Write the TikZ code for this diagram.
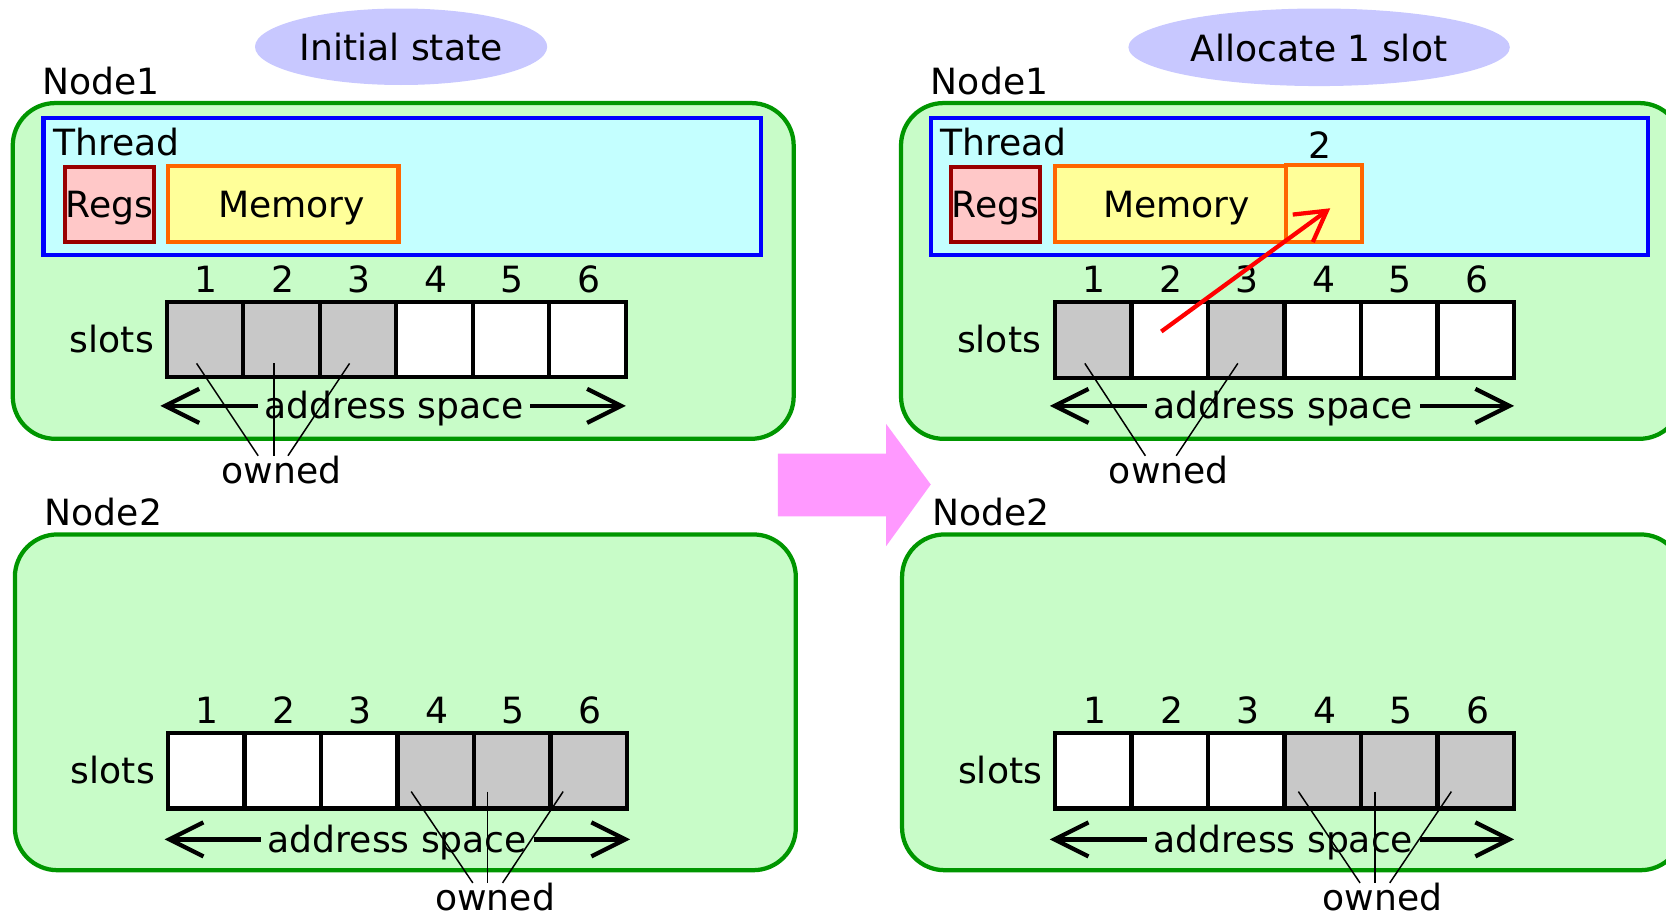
\documentclass[tikz,border=0pt]{standalone}
\usepackage{fontspec}
\setmainfont{DejaVu Sans}
\usetikzlibrary{arrows.meta,shapes.geometric}
\definecolor{nodefill}{RGB}{200,252,200}
\definecolor{nodeline}{RGB}{0,150,0}
\definecolor{ellfill}{RGB}{200,200,255}
\definecolor{thrfill}{RGB}{196,255,255}
\definecolor{thrline}{RGB}{0,0,255}
\definecolor{regfill}{RGB}{255,200,200}
\definecolor{regline}{RGB}{153,0,0}
\definecolor{memfill}{RGB}{255,255,153}
\definecolor{memline}{RGB}{255,102,0}
\definecolor{slotgray}{RGB}{200,200,200}
\definecolor{bigarrow}{RGB}{255,153,255}
\tikzset{
  txt/.style={font=\fontsize{34}{40}\selectfont, inner sep=0pt},
  nodebox/.style={draw=nodeline, fill=nodefill, line width=4pt, rounded corners=40pt,
    minimum width=735pt, minimum height=316pt, anchor=north west, inner sep=0pt, outer sep=0pt},
  thrbox/.style={draw=thrline, fill=thrfill, line width=4pt, minimum width=675pt,
    minimum height=129pt, anchor=north west, inner sep=0pt, outer sep=0pt},
  regbox/.style={txt, draw=regline, fill=regfill, line width=4pt, minimum width=84pt,
    minimum height=71pt, anchor=north west, text depth=0pt},
  membox/.style={txt, draw=memline, fill=memfill, line width=4pt, minimum width=217pt,
    minimum height=72pt, anchor=north west, text depth=0pt},
  ell/.style={txt, ellipse, fill=ellfill, text depth=0pt},
  slot/.style={draw=black, line width=4pt, minimum width=72pt, minimum height=71pt,
    inner sep=0pt, outer sep=0pt},
  addr/.style={line width=4pt, {Straight Barb[length=32pt,width=32pt]}-},
  ownline/.style={line width=1.4pt},
  redarr/.style={draw=red, line width=4pt, -{Straight Barb[length=28pt,width=32pt]}},
}
\begin{document}
\begin{tikzpicture}[x=1pt,y=-1pt]
\useasboundingbox (0,0) rectangle (1568,862);

% ---------------- big arrow
\fill[bigarrow] (732,427) -- (834,427) -- (834,399) -- (876,456) -- (834,514) -- (834,486) -- (732,486) -- cycle;

% ---------------- titles
\node[ell, minimum width=275pt, minimum height=72pt] (e1) at (377.5,44) {Initial state};
\node[ell, minimum width=359pt, minimum height=73pt] (e2) at (1241.5,44.5) {Allocate 1 slot};

% ================= LEFT PANEL
\node[txt, anchor=base west] (L1lab) at (40,89) {Node1};
\node[nodebox] (L1box) at (12,97) {};
\node[thrbox] (L1thr) at (41,111) {};
\node[txt, anchor=base west] (L1thrlab) at (50,146) {Thread};
\node[regbox] (L1reg) at (59,155) {Regs};
\node[membox] (L1mem) at (156,154) {\hspace*{16pt}Memory};
\foreach \i/\c in {1/slotgray,2/slotgray,3/slotgray,4/white,5/white,6/white}{
  \node[slot, fill=\c] (L1s\i) at ({193+72*(\i-1)},319.5) {};
  \node[txt, anchor=base] (L1n\i) at ({194+72*(\i-1)},275) {\i};
}
\node[txt, anchor=base east] (L1slots) at (145,332) {slots};
\node[txt, anchor=base, inner xsep=6pt] (L1as) at (371,394) {address space};
\coordinate (L1al) at (151,382);
\coordinate (L1ar) at (589,382);
\draw[addr] (L1al) -- (L1al -| L1as.west);
\draw[addr] (L1ar) -- (L1ar -| L1as.east);
\node[txt, anchor=base] (L1own) at (265,455) {owned};
\coordinate (L1o1) at (185,342);
\coordinate (L1o2) at (258,342);
\coordinate (L1o3) at (329,342);
\draw[ownline] (L1o1) -- ([xshift=-22pt]L1own.north);
\draw[ownline] (L1o2) -- ([xshift=-7pt]L1own.north);
\draw[ownline] (L1o3) -- ([xshift=6pt]L1own.north);

\node[txt, anchor=base west] (L2lab) at (42,495) {Node2};
\node[nodebox] (L2box) at (14,503) {};
\foreach \i/\c in {1/white,2/white,3/white,4/slotgray,5/slotgray,6/slotgray}{
  \node[slot, fill=\c] (L2s\i) at ({194+72*(\i-1)},725.5) {};
  \node[txt, anchor=base] (L2n\i) at ({195+72*(\i-1)},681) {\i};
}
\node[txt, anchor=base east] (L2slots) at (146,737) {slots};
\node[txt, anchor=base, inner xsep=6pt] (L2as) at (374,802) {address space};
\coordinate (L2al) at (155,790);
\coordinate (L2ar) at (593,790);
\draw[addr] (L2al) -- (L2al -| L2as.west);
\draw[addr] (L2ar) -- (L2ar -| L2as.east);
\node[txt, anchor=base] (L2own) at (466,857) {owned};
\coordinate (L2o1) at (387,745);
\coordinate (L2o2) at (459,745);
\coordinate (L2o3) at (530,745);
\draw[ownline] (L2o1) -- ([xshift=-21pt]L2own.north);
\draw[ownline] (L2o2) -- ([xshift=-7pt]L2own.north);
\draw[ownline] (L2o3) -- ([xshift=7pt]L2own.north);

% ================= RIGHT PANEL
\node[txt, anchor=base west] (R1lab) at (876,89) {Node1};
\node[nodebox] (R1box) at (848,97) {};
\node[thrbox] (R1thr) at (876,111) {};
\node[txt, anchor=base west] (R1thrlab) at (885,146) {Thread};
\node[regbox] (R1reg) at (893,155) {Regs};
\node[membox] (R1mem) at (991,154) {\hspace*{12pt}Memory};
\node[membox, minimum width=72pt, minimum height=73pt] (R1new) at (1208,153) {};
\node[txt, anchor=base] (R1newlab) at (1242,149) {2};
\foreach \i/\c in {1/slotgray,2/white,3/slotgray,4/white,5/white,6/white}{
  \node[slot, fill=\c] (R1s\i) at ({1029+72*(\i-1)},320) {};
  \node[txt, anchor=base] (R1n\i) at ({1030+72*(\i-1)},275) {\i};
}
\node[txt, anchor=base east] (R1slots) at (980,332) {slots};
\node[txt, anchor=base, inner xsep=6pt] (R1as) at (1208,394) {address space};
\coordinate (R1al) at (988,382);
\coordinate (R1ar) at (1425,382);
\draw[addr] (R1al) -- (R1al -| R1as.west);
\draw[addr] (R1ar) -- (R1ar -| R1as.east);
\node[txt, anchor=base] (R1own) at (1100,455) {owned};
\coordinate (R1o1) at (1021,342);
\coordinate (R1o3) at (1165,342);
\draw[ownline] (R1o1) -- ([xshift=-22pt]R1own.north);
\draw[ownline] (R1o3) -- ([xshift=7pt]R1own.north);
\coordinate (ra) at (1093,312);
\coordinate (rb) at (1252,196);
\draw[redarr] (ra) -- (rb);

\node[txt, anchor=base west] (R2lab) at (877,495) {Node2};
\node[nodebox] (R2box) at (849,503) {};
\foreach \i/\c in {1/white,2/white,3/white,4/slotgray,5/slotgray,6/slotgray}{
  \node[slot, fill=\c] (R2s\i) at ({1029+72*(\i-1)},725.5) {};
  \node[txt, anchor=base] (R2n\i) at ({1031+72*(\i-1)},681) {\i};
}
\node[txt, anchor=base east] (R2slots) at (981,737) {slots};
\node[txt, anchor=base, inner xsep=6pt] (R2as) at (1208,802) {address space};
\coordinate (R2al) at (988,790);
\coordinate (R2ar) at (1425,790);
\draw[addr] (R2al) -- (R2al -| R2as.west);
\draw[addr] (R2ar) -- (R2ar -| R2as.east);
\node[txt, anchor=base] (R2own) at (1301,857) {owned};
\coordinate (R2o1) at (1222,745);
\coordinate (R2o2) at (1294,745);
\coordinate (R2o3) at (1366,745);
\draw[ownline] (R2o1) -- ([xshift=-21pt]R2own.north);
\draw[ownline] (R2o2) -- ([xshift=-7pt]R2own.north);
\draw[ownline] (R2o3) -- ([xshift=7pt]R2own.north);
\end{tikzpicture}
\end{document}
